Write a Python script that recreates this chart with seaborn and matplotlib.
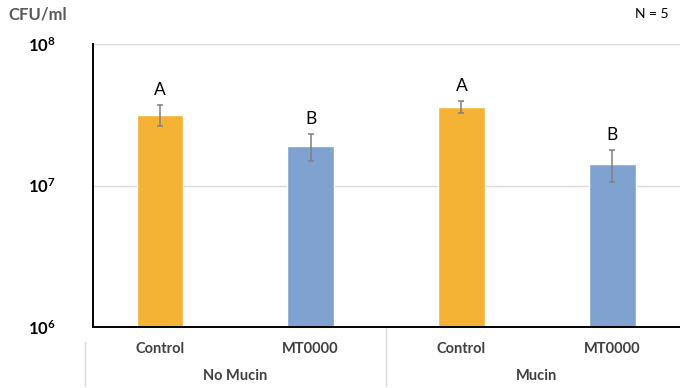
import matplotlib
matplotlib.use("Agg")
import matplotlib.pyplot as plt
import seaborn as sns
import pandas as pd
import numpy as np
from matplotlib.lines import Line2D
from matplotlib.transforms import blended_transform_factory

# ---- data ----
groups = ["No Mucin", "No Mucin", "Mucin", "Mucin"]
treatments = ["Control", "MT0000", "Control", "MT0000"]
means = [3.15e7, 1.90e7, 3.58e7, 1.42e7]
err_upper = [3.70e7, 2.31e7, 3.96e7, 1.78e7]
err_lower = [2.64e7, 1.50e7, 3.23e7, 1.06e7]
letters = ["A", "B", "A", "B"]
group_names = ["No Mucin", "Mucin"]
ytick_vals = [1e6, 1e7, 1e8]
ytick_labels = [r"$\mathbf{10^{6}}$", r"$\mathbf{10^{7}}$", r"$\mathbf{10^{8}}$"]

keys = [f"{g} {t}" for g, t in zip(groups, treatments)]
df = pd.DataFrame({"key": keys, "treatment": treatments, "cfu": means})

sns.set_style("white")
plt.rcParams["font.family"] = ["Lato", "DejaVu Sans"]
plt.rcParams["mathtext.fontset"] = "custom"
plt.rcParams["mathtext.bf"] = "Lato:bold"
plt.rcParams["mathtext.rm"] = "Lato"

fig = plt.figure(figsize=(6.8, 3.88), dpi=100)
ax = fig.add_axes([93 / 680, 1 - 327 / 388, (680 - 93) / 680, (327 - 44) / 388])

palette = {"Control": "#F4B334", "MT0000": "#7FA2D1"}
sns.barplot(data=df, x="key", y="cfu", hue="treatment", order=keys,
            palette=palette, dodge=False, width=0.31, legend=False,
            errorbar=None, ax=ax, saturation=1)

ax.set_yscale("log")
ax.set_ylim(1e6, 1e8)
ax.set_xlim(-0.444, 3.45)

xs = np.arange(len(keys))
m = np.array(means)
yerr = np.vstack([m - np.array(err_lower), np.array(err_upper) - m])
ax.errorbar(xs, m, yerr=yerr, fmt="none", ecolor="#7f7f7f", elinewidth=1.1,
            capsize=2.5, capthick=1.1, zorder=5)

for x, top, lab in zip(xs, err_upper, letters):
    ax.annotate(lab, (x, top), xytext=(0, 5), textcoords="offset points",
                ha="center", va="bottom", fontsize=12.5, color="#000000")

# grid
ax.yaxis.grid(True, which="major", color="#d9d9d9", linewidth=1)
ax.yaxis.grid(False, which="minor")
ax.set_axisbelow(True)
ax.set_yticks(ytick_vals)
ax.set_yticklabels(ytick_labels)
ax.yaxis.set_minor_locator(matplotlib.ticker.NullLocator())
ax.tick_params(axis="y", length=0, pad=27, labelsize=12, labelcolor="#000000")

ax.set_xticks(xs)
ax.set_xticklabels(treatments, fontweight="bold", color="#404040", fontsize=10.5)
ax.tick_params(axis="x", length=0, pad=11)
ax.set_xlabel("")
ax.set_ylabel("")

for s in ["top", "right"]:
    ax.spines[s].set_visible(False)
for s in ["left", "bottom"]:
    ax.spines[s].set_color("#000000")
    ax.spines[s].set_linewidth(1.4)

# group labels & separators
tr = blended_transform_factory(ax.transData, fig.transFigure)
for i, g in enumerate(group_names):
    cx = 2 * i + 0.5
    ax.text(cx, 1 - 376 / 388, g, transform=tr, ha="center", va="center",
            fontsize=10.5, fontweight="bold", color="#404040")
sep_l = Line2D([-0.5, -0.5], [1 - 342 / 388, 1 - 386 / 388], transform=tr,
               color="#d9d9d9", linewidth=1, clip_on=False)
sep_m = Line2D([1.5, 1.5], [1 - 327 / 388, 1 - 386 / 388], transform=tr,
               color="#d9d9d9", linewidth=1, clip_on=False)
ax.add_line(sep_l)
ax.add_line(sep_m)

fig.text(8 / 680, 1 - 15 / 388, "CFU/ml", ha="left", va="center",
         fontsize=12, fontweight="bold", color="#595959")
fig.text(669 / 680, 1 - 14 / 388, "N = 5", ha="right", va="center",
         fontsize=10, color="#000000")

fig.savefig("out.png", dpi=100)
